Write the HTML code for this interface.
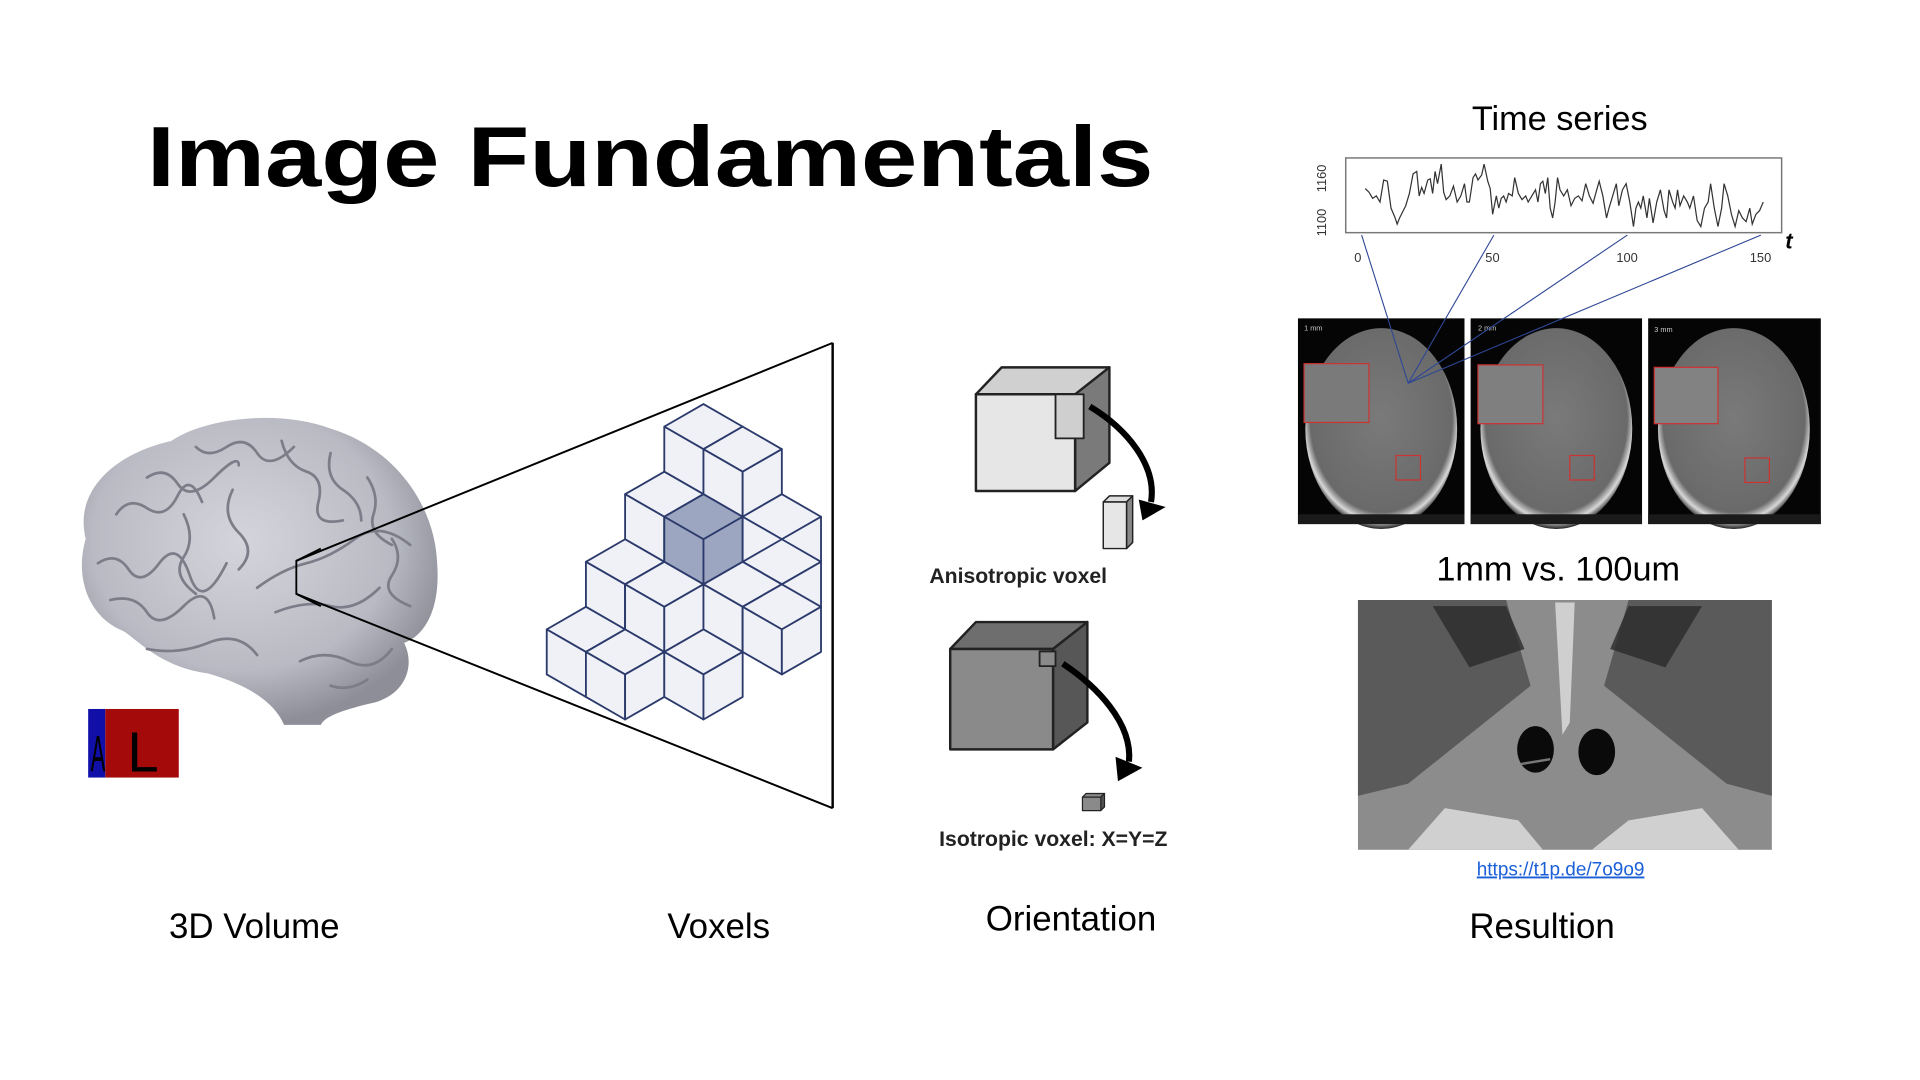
<!DOCTYPE html>
<html><head><meta charset="utf-8"><style>
html,body{margin:0;padding:0;background:#fff;}
svg{display:block;}
text{font-family:"Liberation Sans",Arial,sans-serif;}
</style></head><body>
<svg width="1920" height="1080" viewBox="0 0 1568 882" xmlns="http://www.w3.org/2000/svg">
<defs>
  <g id="cube">
    <polygon points="0,0 32,18.4 0,36.8 -32,18.4"/>
    <polygon points="-32,18.4 0,36.8 0,73.6 -32,55.2"/>
    <polygon points="0,36.8 32,18.4 32,55.2 0,73.6"/>
  </g>
  <radialGradient id="brainG" cx="0.45" cy="0.4" r="0.6">
    <stop offset="0" stop-color="#d4d5dc"/><stop offset="0.7" stop-color="#b9bac3"/><stop offset="1" stop-color="#8d8e98"/>
  </radialGradient>
  <radialGradient id="headG" cx="0.5" cy="0.45" r="0.55">
    <stop offset="0" stop-color="#7a7a7a"/><stop offset="0.85" stop-color="#6a6a6a"/><stop offset="0.93" stop-color="#d8d8d8"/><stop offset="1" stop-color="#222"/>
  </radialGradient>
</defs>

<text x="120" y="152" font-size="70" font-weight="bold" textLength="822" lengthAdjust="spacingAndGlyphs">Image Fundamentals</text>

<path d="M70,440 C60,400 95,370 140,360 C170,340 230,335 270,350 C320,365 355,410 357,460 C360,500 345,520 330,525 C340,545 330,570 300,575 C280,580 265,585 262,592 L232,592 C225,575 205,560 170,550 C130,545 110,520 100,515 C75,505 60,475 70,440 Z" fill="url(#brainG)"/>
<g fill="none" stroke="#7c7d88" stroke-width="2.2" stroke-linecap="round">
  <path d="M95,420 q10,-15 25,-5 t25,-10 t20,5"/>
  <path d="M120,390 q15,-10 25,5 t30,-5 t20,-10"/>
  <path d="M160,365 q10,10 25,0 t25,5 t30,-5"/>
  <path d="M230,360 q5,20 20,25 t10,25 t20,15"/>
  <path d="M270,370 q-5,20 10,30 t15,25"/>
  <path d="M300,390 q10,15 5,30 t15,25"/>
  <path d="M80,460 q15,-10 25,5 t25,-5 t25,10 t30,-10"/>
  <path d="M90,490 q20,-5 30,10 t30,-5 t25,10"/>
  <path d="M150,420 q10,20 0,35 t10,30"/>
  <path d="M190,400 q-10,20 5,35 t0,30"/>
  <path d="M210,480 q20,-15 40,-20 t40,-20 t45,5"/>
  <path d="M225,500 q25,-10 45,-5 t40,-15"/>
  <path d="M120,530 q25,5 50,-5 t40,10"/>
  <path d="M245,540 q20,-10 40,0 t35,-10"/>
  <path d="M270,560 q15,5 30,-5"/>
  <path d="M320,440 q10,15 0,30 t15,25"/>
</g>
<rect x="72" y="579" width="14" height="56" fill="#1010a8"/>
<rect x="86" y="579" width="60" height="56" fill="#a50a0a"/>
<text x="74" y="630" font-size="42" fill="#000" textLength="12" lengthAdjust="spacingAndGlyphs">A</text>
<text x="104" y="630" font-size="46" fill="#000">L</text>

<polyline points="262,448 242,458 242,485 262,495" fill="none" stroke="#000" stroke-width="1.5"/>
<line x1="242" y1="458" x2="680" y2="280" stroke="#000" stroke-width="1.6"/>
<line x1="242" y1="485" x2="680" y2="660" stroke="#000" stroke-width="1.6"/>
<line x1="680" y1="280" x2="680" y2="660" stroke="#000" stroke-width="2"/>

<g fill="#eff1f7" stroke="#2b3a6b" stroke-width="1.5" stroke-linejoin="round">
  <use href="#cube" x="574.5" y="330"/>
  <use href="#cube" x="606.5" y="348.4"/>
  <use href="#cube" x="542.5" y="385.2"/>
  <use href="#cube" x="574.5" y="403.6" fill="#9ca6c0"/>
  <use href="#cube" x="638.5" y="403.6"/>
  <use href="#cube" x="510.5" y="440.4"/>
  <use href="#cube" x="638.5" y="440.4"/>
  <use href="#cube" x="542.5" y="458.8"/>
  <use href="#cube" x="606.5" y="458.8"/>
  <use href="#cube" x="638.5" y="477.2"/>
  <use href="#cube" x="478.5" y="495.6"/>
  <use href="#cube" x="510.5" y="514"/>
  <use href="#cube" x="574.5" y="514"/>
</g>

<g stroke="#222" stroke-width="2" stroke-linejoin="round">
  <polygon points="797,322 818,300 906,300 885,322" fill="#d0d0d0"/>
  <polygon points="878,322 906,300 906,378 878,401" fill="#7a7a7a"/>
  <rect x="797" y="322" width="81" height="79" fill="#e6e6e6"/>
  <polygon points="862,322 885,322 885,358 862,358" fill="#cfcfcf" stroke-width="1.5"/>
  <polygon points="901,410 906,405 925,405 920,410" fill="#ddd" stroke-width="1.2"/>
  <polygon points="920,410 925,405 925,443 920,448" fill="#888" stroke-width="1.2"/>
  <rect x="901" y="410" width="19" height="38" fill="#e6e6e6" stroke-width="1.2"/>
</g>
<path d="M890,332 C920,350 945,380 940,410" fill="none" stroke="#000" stroke-width="5"/>
<polygon points="930,408 952,414 933,425" fill="#000"/>
<text x="759" y="476" font-size="17.3" font-weight="bold" fill="#222">Anisotropic voxel</text>

<g stroke="#222" stroke-width="2" stroke-linejoin="round">
  <polygon points="776,530 797,508 888,508 860,530" fill="#6e6e6e"/>
  <polygon points="860,530 888,508 888,590 860,612" fill="#575757"/>
  <rect x="776" y="530" width="84" height="82" fill="#8a8a8a"/>
  <rect x="849" y="532" width="13" height="12" fill="#8a8a8a" stroke-width="1.5"/>
  <polygon points="884,651 887,648 902,648 899,651" fill="#888" stroke-width="1"/>
  <polygon points="899,651 902,648 902,659 899,662" fill="#555" stroke-width="1"/>
  <rect x="884" y="651" width="15" height="11" fill="#8a8a8a" stroke-width="1"/>
</g>
<path d="M868,542 C895,560 925,590 922,622" fill="none" stroke="#000" stroke-width="5"/>
<polygon points="911,618 933,627 913,638" fill="#000"/>
<text x="767" y="691" font-size="17.3" font-weight="bold" fill="#222">Isotropic voxel: X=Y=Z</text>

<text x="1202" y="106" font-size="28">Time series</text>
<rect x="1099" y="129" width="356" height="61" fill="#fff" stroke="#777" stroke-width="1.2"/>
<polyline fill="none" stroke="#333" stroke-width="1" points="1115,154 1118,157 1121,162 1124,160 1127,165 1130,147 1133,148 1136,170 1139,177 1141,183 1143,178 1146,172 1148,168 1151,158 1154,142 1157,140 1159,160 1161,153 1163,158 1166,147 1168,146 1170,158 1172,140 1174,150 1177,134 1179,157 1181,163 1184,160 1187,152 1190,165 1193,160 1196,150 1198,165 1200,165 1203,145 1205,142 1207,147 1210,143 1212,134 1215,148 1217,154 1219,175 1222,160 1224,170 1226,162 1228,160 1230,165 1232,158 1235,160 1237,145 1240,158 1243,163 1246,160 1248,165 1251,160 1254,155 1256,165 1258,150 1260,148 1262,158 1264,145 1266,170 1268,178 1270,165 1272,145 1274,155 1277,160 1280,155 1283,168 1286,162 1289,160 1292,164 1295,150 1298,160 1301,166 1304,155 1306,148 1309,160 1312,178 1314,170 1317,160 1320,150 1322,168 1325,155 1328,150 1331,165 1334,185 1336,170 1338,165 1340,170 1342,160 1345,178 1347,162 1350,182 1353,165 1356,155 1359,172 1361,178 1363,155 1366,165 1368,170 1370,155 1372,168 1375,160 1378,165 1380,170 1383,160 1386,180 1389,185 1392,170 1395,165 1397,150 1400,170 1403,185 1406,170 1408,150 1411,160 1414,175 1417,185 1420,172 1423,178 1426,181 1429,170 1431,183 1434,175 1437,172 1440,165"/>
<g font-size="10.5" fill="#333">
  <text x="1106" y="214">0</text><text x="1213" y="214">50</text><text x="1320" y="214">100</text><text x="1429" y="214">150</text>
  <text transform="translate(1083,193) rotate(-90)">1100</text>
  <text transform="translate(1083,157) rotate(-90)">1160</text>
</g>
<text x="1458" y="203" font-size="18" font-style="italic" font-weight="bold">t</text>

<g>
  <rect x="1060" y="260" width="136" height="168" fill="#050505"/>
  <rect x="1201" y="260" width="140" height="168" fill="#050505"/>
  <rect x="1346" y="260" width="141" height="168" fill="#050505"/>
  <ellipse cx="1128" cy="350" rx="62" ry="82" fill="url(#headG)"/>
  <ellipse cx="1271" cy="350" rx="62" ry="82" fill="url(#headG)"/>
  <ellipse cx="1416" cy="350" rx="62" ry="82" fill="url(#headG)"/>
  <rect x="1060" y="420" width="136" height="8" fill="#1a1a1a"/>
  <rect x="1201" y="420" width="140" height="8" fill="#1a1a1a"/>
  <rect x="1346" y="420" width="141" height="8" fill="#1a1a1a"/>
  <g fill="none" stroke="#c33" stroke-width="1">
    <rect x="1065" y="297" width="53" height="48" fill="#7a7a7a"/>
    <rect x="1140" y="372" width="20" height="20"/>
    <rect x="1207" y="298" width="53" height="48" fill="#7f7f7f"/>
    <rect x="1282" y="372" width="20" height="20"/>
    <rect x="1351" y="300" width="52" height="46" fill="#828282"/>
    <rect x="1425" y="374" width="20" height="20"/>
  </g>
  <g fill="#ccc" font-size="6"><text x="1065" y="270">1 mm</text><text x="1207" y="270">2 mm</text><text x="1351" y="271">3 mm</text></g>
</g>
<g stroke="#2e4795" stroke-width="0.9">
  <line x1="1112" y1="192" x2="1150" y2="313"/>
  <line x1="1220" y1="192" x2="1150" y2="313"/>
  <line x1="1329" y1="192" x2="1150" y2="313"/>
  <line x1="1438" y1="192" x2="1150" y2="313"/>
</g>

<text x="1173" y="474" font-size="28">1mm vs. 100um</text>

<rect x="1109" y="490" width="338" height="204" fill="#8c8c8c"/>
<path d="M1109,490 L1230,490 L1250,560 L1200,600 L1150,640 L1109,650 Z" fill="#5a5a5a"/>
<path d="M1447,490 L1330,490 L1310,560 L1360,600 L1410,640 L1447,650 Z" fill="#5a5a5a"/>
<path d="M1170,495 L1230,495 L1245,530 L1200,545 Z" fill="#2a2a2a" opacity="0.8"/>
<path d="M1390,495 L1330,495 L1315,530 L1360,545 Z" fill="#2a2a2a" opacity="0.8"/>
<path d="M1270,492 L1286,492 L1282,590 L1276,600 Z" fill="#cfcfcf"/>
<path d="M1150,694 L1180,660 L1240,670 L1260,694 Z" fill="#d0d0d0"/>
<path d="M1300,694 L1330,670 L1390,660 L1420,694 Z" fill="#d0d0d0"/>
<ellipse cx="1254" cy="612" rx="15" ry="19" fill="#0a0a0a"/>
<ellipse cx="1304" cy="614" rx="15" ry="19" fill="#0a0a0a"/>
<line x1="1242" y1="624" x2="1266" y2="620" stroke="#777" stroke-width="2"/>
<text x="1206" y="715" font-size="15.5" fill="#1a5fd8" text-decoration="underline">https://t1p.de/7o9o9</text>

<g font-size="28.5">
  <text x="138" y="766">3D Volume</text>
  <text x="545" y="766">Voxels</text>
  <text x="805" y="760">Orientation</text>
  <text x="1200" y="766">Resultion</text>
</g>
</svg>
</body></html>
